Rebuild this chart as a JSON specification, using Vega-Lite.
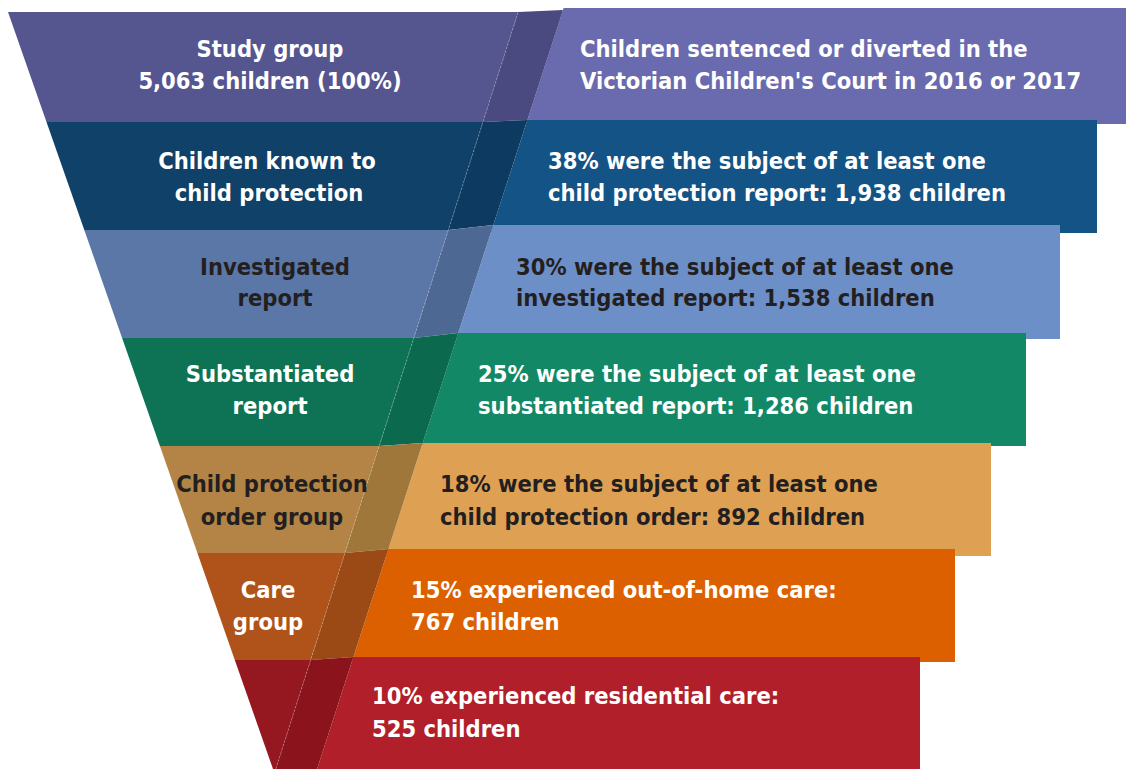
{
  "$schema": "https://vega.github.io/schema/vega-lite/v6.json",
  "width": 1126,
  "height": 769,
  "padding": 0,
  "autosize": {"type": "none"},
  "background": "white",
  "config": {"view": {"stroke": null}},
  "datasets": {
    "shapes": [
      {"key": "box1", "y": 8, "x": 563.6, "x2": 1126}, {"key": "box1", "y": 124, "x": 526.1, "x2": 1126},
      {"key": "box2", "y": 120, "x": 527.4, "x2": 1097}, {"key": "box2", "y": 233, "x": 490.7, "x2": 1097},
      {"key": "box3", "y": 225, "x": 493.3, "x2": 1060}, {"key": "box3", "y": 339, "x": 456.4, "x2": 1060},
      {"key": "box4", "y": 333, "x": 458.3, "x2": 1026}, {"key": "box4", "y": 446, "x": 421.7, "x2": 1026},
      {"key": "box5", "y": 443, "x": 422.7, "x2": 991}, {"key": "box5", "y": 556, "x": 386.1, "x2": 991},
      {"key": "box6", "y": 549, "x": 388.4, "x2": 955}, {"key": "box6", "y": 662, "x": 351.8, "x2": 955},
      {"key": "box7", "y": 657, "x": 353.4, "x2": 920}, {"key": "box7", "y": 769, "x": 317.1, "x2": 920},
      {"key": "front1", "y": 12, "x": 8, "x2": 518}, {"key": "front1", "y": 122, "x": 46.5, "x2": 482.8},
      {"key": "front2", "y": 122, "x": 46.5, "x2": 482.8}, {"key": "front2", "y": 230, "x": 84.3, "x2": 448.2},
      {"key": "front3", "y": 230, "x": 84.3, "x2": 448.2}, {"key": "front3", "y": 338, "x": 122.1, "x2": 413.7},
      {"key": "front4", "y": 338, "x": 122.1, "x2": 413.7}, {"key": "front4", "y": 446, "x": 159.9, "x2": 379.1},
      {"key": "front5", "y": 446, "x": 159.9, "x2": 379.1}, {"key": "front5", "y": 553, "x": 197.4, "x2": 344.9},
      {"key": "front6", "y": 553, "x": 197.4, "x2": 344.9}, {"key": "front6", "y": 660, "x": 234.8, "x2": 310.6},
      {"key": "front7", "y": 660, "x": 234.8, "x2": 310.6}, {"key": "front7", "y": 769, "x": 273, "x2": 275.8},
      {"key": "fold1", "y": 10, "x": 563, "x2": 563}, {"key": "fold1", "y": 12, "x": 518, "x2": 562.4}, {"key": "fold1", "y": 120, "x": 483.4, "x2": 527.4}, {"key": "fold1", "y": 122, "x": 482.8, "x2": 482.8},
      {"key": "fold2", "y": 120, "x": 527.4, "x2": 527.4}, {"key": "fold2", "y": 122, "x": 482.8, "x2": 526.7}, {"key": "fold2", "y": 225, "x": 449.8, "x2": 493.3}, {"key": "fold2", "y": 230, "x": 448.2, "x2": 448.2},
      {"key": "fold3", "y": 225, "x": 493.3, "x2": 493.3}, {"key": "fold3", "y": 230, "x": 448.2, "x2": 491.7}, {"key": "fold3", "y": 333, "x": 415.3, "x2": 458.3}, {"key": "fold3", "y": 338, "x": 413.7, "x2": 413.7},
      {"key": "fold4", "y": 333, "x": 458.3, "x2": 458.3}, {"key": "fold4", "y": 338, "x": 413.7, "x2": 456.7}, {"key": "fold4", "y": 443, "x": 380.1, "x2": 422.7}, {"key": "fold4", "y": 446, "x": 379.1, "x2": 379.1},
      {"key": "fold5", "y": 443, "x": 422.7, "x2": 422.7}, {"key": "fold5", "y": 446, "x": 379.1, "x2": 421.7}, {"key": "fold5", "y": 549, "x": 346.2, "x2": 388.4}, {"key": "fold5", "y": 553, "x": 344.9, "x2": 344.9},
      {"key": "fold6", "y": 549, "x": 388.4, "x2": 388.4}, {"key": "fold6", "y": 553, "x": 344.9, "x2": 387.1}, {"key": "fold6", "y": 657, "x": 311.6, "x2": 353.4}, {"key": "fold6", "y": 660, "x": 310.6, "x2": 310.6},
      {"key": "fold7", "y": 657, "x": 353.4, "x2": 353.4}, {"key": "fold7", "y": 660, "x": 310.6, "x2": 352.4}, {"key": "fold7", "y": 769, "x": 275.8, "x2": 317.1}
    ],
    "edges": [
      {"edge": "right", "x": 518, "y": 13},
      {"edge": "right", "x": 275.8, "y": 769}
    ],
    "labels": [
      {"side": "left", "stage": 1, "text": "Study group", "x": 270, "y": 50},
      {"side": "left", "stage": 1, "text": "5,063 children (100%)", "x": 270, "y": 82},
      {"side": "left", "stage": 2, "text": "Children known to", "x": 267, "y": 162},
      {"side": "left", "stage": 2, "text": "child protection", "x": 269, "y": 194},
      {"side": "left", "stage": 3, "text": "Investigated", "x": 275, "y": 268},
      {"side": "left", "stage": 3, "text": "report", "x": 275, "y": 299},
      {"side": "left", "stage": 4, "text": "Substantiated", "x": 270, "y": 375},
      {"side": "left", "stage": 4, "text": "report", "x": 270, "y": 407},
      {"side": "left", "stage": 5, "text": "Child protection", "x": 272, "y": 485},
      {"side": "left", "stage": 5, "text": "order group", "x": 272, "y": 518},
      {"side": "left", "stage": 6, "text": "Care", "x": 268, "y": 591},
      {"side": "left", "stage": 6, "text": "group", "x": 268, "y": 623},
      {"side": "right", "stage": 1, "text": "Children sentenced or diverted in the", "x": 580, "y": 50},
      {"side": "right", "stage": 1, "text": "Victorian Children's Court in 2016 or 2017", "x": 580, "y": 82},
      {"side": "right", "stage": 2, "text": "38% were the subject of at least one", "x": 548, "y": 162},
      {"side": "right", "stage": 2, "text": "child protection report: 1,938 children", "x": 548, "y": 194},
      {"side": "right", "stage": 3, "text": "30% were the subject of at least one", "x": 516, "y": 268},
      {"side": "right", "stage": 3, "text": "investigated report: 1,538 children", "x": 516, "y": 299},
      {"side": "right", "stage": 4, "text": "25% were the subject of at least one", "x": 478, "y": 375},
      {"side": "right", "stage": 4, "text": "substantiated report: 1,286 children", "x": 478, "y": 407},
      {"side": "right", "stage": 5, "text": "18% were the subject of at least one", "x": 440, "y": 485},
      {"side": "right", "stage": 5, "text": "child protection order: 892 children", "x": 440, "y": 518},
      {"side": "right", "stage": 6, "text": "15% experienced out-of-home care:", "x": 411, "y": 591},
      {"side": "right", "stage": 6, "text": "767 children", "x": 411, "y": 623},
      {"side": "right", "stage": 7, "text": "10% experienced residential care:", "x": 372, "y": 697},
      {"side": "right", "stage": 7, "text": "525 children", "x": 372, "y": 730}
    ]
  },
  "resolve": {"scale": {"color": "independent"}},
  "layer": [
    {
      "data": {"name": "shapes"},
      "mark": {"type": "area", "orient": "horizontal"},
      "encoding": {
        "y": {"field": "y", "type": "quantitative", "scale": {"domain": [0, 769], "reverse": true, "nice": false, "zero": false}, "axis": null},
        "x": {"field": "x", "type": "quantitative", "scale": {"domain": [0, 1126], "nice": false, "zero": false}, "axis": null, "stack": null},
        "x2": {"field": "x2"},
        "color": {
          "field": "key", "type": "nominal", "legend": null,
          "scale": {
            "domain": ["box1","box2","box3","box4","box5","box6","box7","front1","front2","front3","front4","front5","front6","front7","fold1","fold2","fold3","fold4","fold5","fold6","fold7"],
            "range": ["#6a6aae","#145385","#6d8fc8","#138866","#dea154","#dc5f00","#b11f2a","#55558f","#104169","#5a77a7","#0e7354","#b38445","#b0531b","#951720","#4a4a80","#0c3a60","#4e6894","#0b6a4d","#9f773a","#9b4915","#8a131c"]
          }
        }
      }
    },
    {
      "data": {"name": "edges"},
      "mark": {"type": "line", "color": "#ffffff", "opacity": 0.25, "strokeWidth": 1, "strokeDash": [2, 2]},
      "encoding": {
        "y": {"field": "y", "type": "quantitative", "scale": {"domain": [0, 769], "reverse": true, "nice": false, "zero": false}, "axis": null},
        "x": {"field": "x", "type": "quantitative", "scale": {"domain": [0, 1126], "nice": false, "zero": false}, "axis": null},
        "detail": {"field": "edge"}
      }
    },
    {
      "data": {"name": "labels"},
      "transform": [{"filter": "datum.side === 'left'"}],
      "mark": {"type": "text", "align": "center", "baseline": "middle", "font": "DejaVu Sans Condensed, Roboto, sans-serif", "fontSize": 23.5, "fontWeight": "bold"},
      "encoding": {
        "y": {"field": "y", "type": "quantitative", "scale": {"domain": [0, 769], "reverse": true, "nice": false, "zero": false}, "axis": null},
        "x": {"field": "x", "type": "quantitative", "scale": {"domain": [0, 1126], "nice": false, "zero": false}, "axis": null},
        "text": {"field": "text"},
        "color": {"field": "stage", "type": "nominal", "legend": null, "scale": {"domain": [1,2,3,4,5,6,7], "range": ["#ffffff","#ffffff","#231f20","#ffffff","#231f20","#ffffff","#ffffff"]}}
      }
    },
    {
      "data": {"name": "labels"},
      "transform": [{"filter": "datum.side === 'right'"}],
      "mark": {"type": "text", "align": "left", "baseline": "middle", "font": "DejaVu Sans Condensed, Roboto, sans-serif", "fontSize": 23.5, "fontWeight": "bold"},
      "encoding": {
        "y": {"field": "y", "type": "quantitative", "scale": {"domain": [0, 769], "reverse": true, "nice": false, "zero": false}, "axis": null},
        "x": {"field": "x", "type": "quantitative", "scale": {"domain": [0, 1126], "nice": false, "zero": false}, "axis": null},
        "text": {"field": "text"},
        "color": {"field": "stage", "type": "nominal", "legend": null, "scale": {"domain": [1,2,3,4,5,6,7], "range": ["#ffffff","#ffffff","#231f20","#ffffff","#231f20","#ffffff","#ffffff"]}}
      }
    }
  ]
}
